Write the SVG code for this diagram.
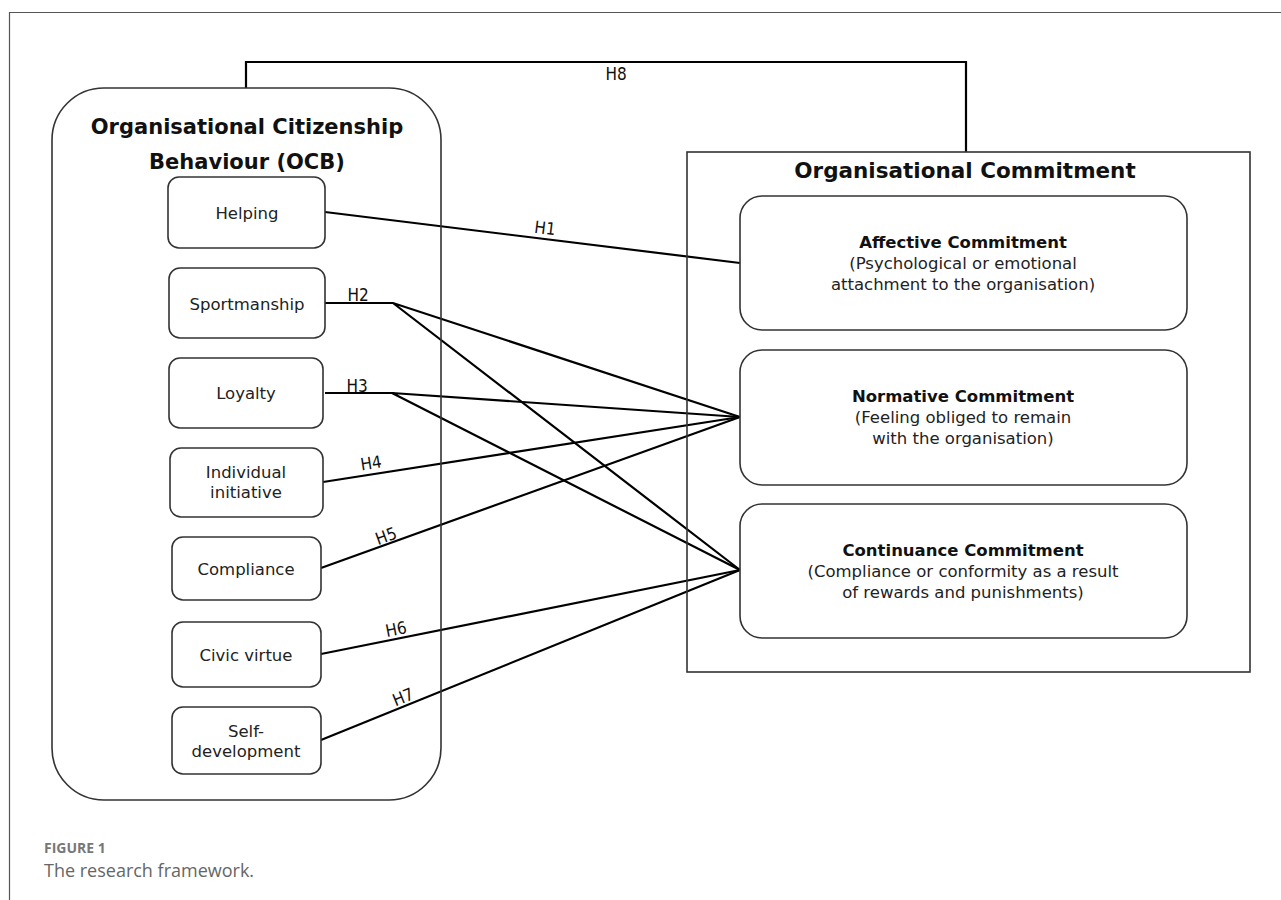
<svg xmlns="http://www.w3.org/2000/svg" width="1281" height="900" viewBox="0 0 1281 900">
<style>
.frame{stroke:#555;stroke-width:1.2;fill:none}
.big{fill:none;stroke:#333;stroke-width:1.6}
.box{fill:#fff;stroke:#333;stroke-width:1.6}
.con{fill:none;stroke:#000;stroke-width:2.2;stroke-linejoin:miter}
.title{font-family:"DejaVu Sans",sans-serif;font-weight:bold;font-size:21px;fill:#111;text-anchor:middle}
.lbl{font-family:"DejaVu Sans",sans-serif;font-size:16.5px;fill:#222;text-anchor:middle}
.hb{font-family:"DejaVu Sans",sans-serif;font-weight:bold;font-size:16.5px;fill:#111;text-anchor:middle}
.h{font-family:"DejaVu Sans Condensed","DejaVu Sans",sans-serif;font-size:17px;fill:#111;text-anchor:middle}
.cap1{font-family:"Open Sans",sans-serif;font-weight:bold;font-size:14px;fill:#777}
.cap2{font-family:"Open Sans",sans-serif;font-size:18px;fill:#666}
</style>
<rect width="1281" height="900" fill="#fff"/>
<path class="frame" d="M9.5,900 V12.5 H1281"/>

<g id="connectors">
<path class="con" d="M246,88 V62 H966 V152"/>
<text class="h" x="616" y="80">H8</text>
<path class="con" d="M325,212 L740,263"/>
<text class="h" x="545" y="234" transform="rotate(7 545 228)">H1</text>
<path class="con" d="M325,303 H393 L740,417 M393,303 L740,570"/>
<text class="h" x="358" y="301">H2</text>
<path class="con" d="M325,393 H392 L740,417 M392,393 L740,570"/>
<text class="h" x="357" y="392">H3</text>
<path class="con" d="M323,482 L740,417"/>
<text class="h" x="371" y="469" transform="rotate(-9 371 463)">H4</text>
<path class="con" d="M321,568 L740,417"/>
<text class="h" x="386" y="542" transform="rotate(-20 386 536)">H5</text>
<path class="con" d="M321,654 L740,570"/>
<text class="h" x="396" y="635" transform="rotate(-11 396 629)">H6</text>
<path class="con" d="M321,740 L740,570"/>
<text class="h" x="403" y="703" transform="rotate(-22 403 697)">H7</text>
</g>

<g id="ocb">
<rect class="big" x="52" y="88" width="389" height="712" rx="52" ry="52"/>
<text class="title" x="247" y="134">Organisational Citizenship</text>
<text class="title" x="247" y="169">Behaviour (OCB)</text>
</g>
<g id="helping"><rect class="box" x="168" y="177" width="157" height="71" rx="11"/><text class="lbl" x="247" y="219">Helping</text></g>
<g id="sportmanship"><rect class="box" x="169" y="268" width="156" height="70" rx="11"/><text class="lbl" x="247" y="310">Sportmanship</text></g>
<g id="loyalty"><rect class="box" x="169" y="358" width="154" height="70" rx="11"/><text class="lbl" x="246" y="399">Loyalty</text></g>
<g id="individual"><rect class="box" x="170" y="448" width="153" height="69" rx="11"/><text class="lbl" x="246" y="478">Individual</text><text class="lbl" x="246" y="498">initiative</text></g>
<g id="compliance"><rect class="box" x="172" y="537" width="149" height="63" rx="11"/><text class="lbl" x="246" y="575">Compliance</text></g>
<g id="civic"><rect class="box" x="172" y="622" width="149" height="65" rx="11"/><text class="lbl" x="246" y="661">Civic virtue</text></g>
<g id="selfdev"><rect class="box" x="172" y="707" width="149" height="67" rx="11"/><text class="lbl" x="246" y="737">Self-</text><text class="lbl" x="246" y="757">development</text></g>

<g id="oc">
<rect class="big" x="687" y="152" width="563" height="520"/>
<text class="title" x="965" y="178" style="font-size:21.5px">Organisational Commitment</text>
</g>
<g id="affective"><rect class="box" x="740" y="196" width="447" height="134" rx="22"/>
<text class="hb" x="963" y="248">Affective Commitment</text>
<text class="lbl" x="963" y="269">(Psychological or emotional</text>
<text class="lbl" x="963" y="290">attachment to the organisation)</text></g>
<g id="normative"><rect class="box" x="740" y="350" width="447" height="135" rx="22"/>
<text class="hb" x="963" y="402">Normative Commitment</text>
<text class="lbl" x="963" y="423">(Feeling obliged to remain</text>
<text class="lbl" x="963" y="444">with the organisation)</text></g>
<g id="continuance"><rect class="box" x="740" y="504" width="447" height="134" rx="22"/>
<text class="hb" x="963" y="556">Continuance Commitment</text>
<text class="lbl" x="963" y="577">(Compliance or conformity as a result</text>
<text class="lbl" x="963" y="598">of rewards and punishments)</text></g>

<g id="caption">
<text class="cap1" x="44" y="853">FIGURE 1</text>
<text class="cap2" x="44" y="877">The research framework.</text>
</g>
</svg>
